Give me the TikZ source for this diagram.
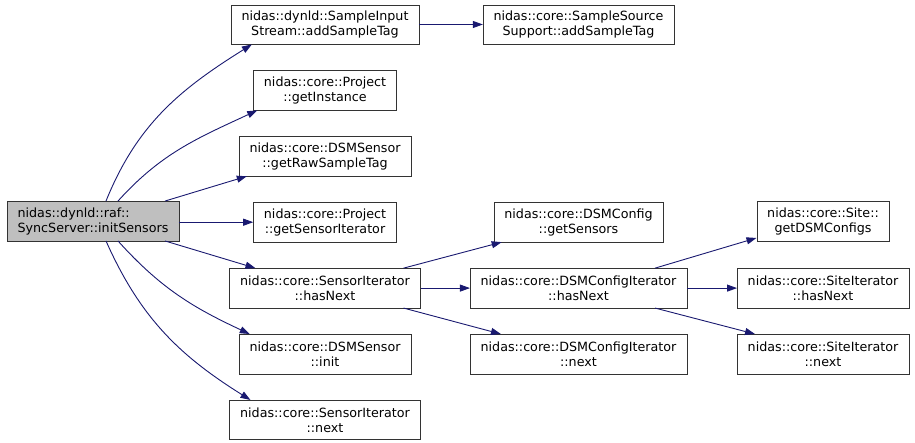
\documentclass[tikz,border=0pt]{standalone}
\usepackage{fontspec}
\setmainfont{DejaVu Sans}
\usetikzlibrary{arrows.meta,positioning}
\definecolor{azulnoche}{HTML}{191970}

\begin{document}
\begin{tikzpicture}[
        x=1pt, y=-1pt,
        node distance=26pt and 63pt,
        funcion/.style={draw=black!80, align=center, minimum height=39.5pt, inner xsep=10.5pt, inner ysep=2pt, font=\fontsize{12.7}{15}\selectfont},
        raiz/.style={funcion, fill=black!25, align=left},
        flecha/.style={-{Triangle[length=10pt,width=7pt]}, draw=azulnoche, line width=0.9pt}
    ]
        \useasboundingbox (0,0) rectangle (915,443);

        \node[raiz] (init-sensors) at (93,221) {nidas::dynld::raf::\\SyncServer::initSensors};

        \node[funcion] (add-tag) at (325,24.5) {nidas::dynld::SampleInput\\Stream::addSampleTag};
        \node[funcion, below=of add-tag] (get-instance) {nidas::core::Project\\::getInstance};
        \node[funcion, below=of get-instance] (raw-tag) {nidas::core::DSMSensor\\::getRawSampleTag};
        \node[funcion, below=of raw-tag] (sensor-iter) {nidas::core::Project\\::getSensorIterator};
        \node[funcion, below=of sensor-iter] (has-next) {nidas::core::SensorIterator\\::hasNext};
        \node[funcion, below=of has-next] (sensor-init) {nidas::core::DSMSensor\\::init};
        \node[funcion, below=of sensor-init] (iter-next) {nidas::core::SensorIterator\\::next};

        \node[funcion] (source-tag) at (578.5,24.5) {nidas::core::SampleSource\\Support::addSampleTag};
        \node[funcion] (get-sensors) at (source-tag |- sensor-iter) {nidas::core::DSMConfig\\::getSensors};
        \node[funcion] (config-has-next) at (source-tag |- has-next) {nidas::core::DSMConfigIterator\\::hasNext};
        \node[funcion] (config-next) at (source-tag |- sensor-init) {nidas::core::DSMConfigIterator\\::next};

        \node[funcion] (get-configs) at (823,221) {nidas::core::Site::\\getDSMConfigs};
        \node[funcion] (site-has-next) at (get-configs |- has-next) {nidas::core::SiteIterator\\::hasNext};
        \node[funcion] (site-next) at (get-configs |- sensor-init) {nidas::core::SiteIterator\\::next};

        % llamadas desde la raiz
        \draw[flecha] ([xshift=13pt]init-sensors.north) to[out=68,in=212] ([xshift=21pt]add-tag.south west);
        \draw[flecha] ([xshift=25pt]init-sensors.north) to[out=48,in=205] ([xshift=4pt]get-instance.south west);
        \draw[flecha] ([xshift=72pt]init-sensors.north) -- ([xshift=8pt]raw-tag.south west);
        \draw[flecha] (init-sensors.east |- sensor-iter.west) -- (sensor-iter.west);
        \draw[flecha] ([xshift=72pt]init-sensors.south) -- ([xshift=26pt]has-next.north west);
        \draw[flecha] ([xshift=25pt]init-sensors.south) to[out=-48,in=155] ([xshift=11pt]sensor-init.north west);
        \draw[flecha] ([xshift=13pt]init-sensors.south) to[out=-66,in=148] ([xshift=21pt]iter-next.north west);

        \draw[flecha] (source-tag.west -| add-tag.east) -- (source-tag.west);

        \draw[flecha] ([xshift=-17pt]has-next.north east) -- ([xshift=8pt]get-sensors.south west);
        \draw[flecha] (has-next.east) -- (config-has-next.west);
        \draw[flecha] ([xshift=-17pt]has-next.south east) -- ([xshift=31pt]config-next.north west);

        \draw[flecha] ([xshift=-32pt]config-has-next.north east) -- ([yshift=3pt]get-configs.south west);
        \draw[flecha] (config-has-next.east) -- (site-has-next.west);
        \draw[flecha] ([xshift=-32pt]config-has-next.south east) -- ([xshift=18pt]site-next.north west);
    \end{tikzpicture}
\end{document}
